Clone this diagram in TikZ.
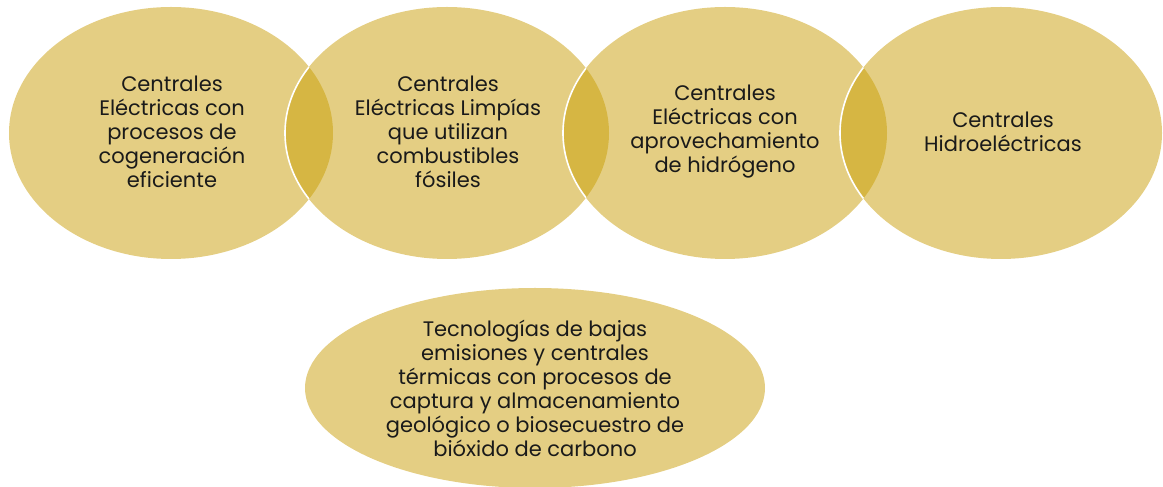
\documentclass[tikz,border=0pt]{standalone}
\usepackage{fontspec}
\setmainfont{Poppins}
\definecolor{gold}{RGB}{200,156,2}
\definecolor{txt}{RGB}{26,26,26}
\begin{document}
\begin{tikzpicture}[x=1pt,y=1pt,
  blob/.style={fill=gold,fill opacity=0.49},
  lbl/.style={align=center,text=txt,font=\fontsize{21}{24}\selectfont,inner sep=0pt}]
\useasboundingbox (0,0) rectangle (1163,487);
% ellipses
\fill[blob] (171,354) ellipse [x radius=162,y radius=126];
\fill[blob] (447,354) ellipse [x radius=162,y radius=126];
\fill[blob] (725,354) ellipse [x radius=162,y radius=126];
\fill[blob] (1001,354) ellipse [x radius=161,y radius=126];
\fill[blob] (535,99) ellipse [x radius=230,y radius=100];
% white arcs inside lenses
\begin{scope}
\clip (171,354) ellipse [x radius=162,y radius=126];
\draw[white,line width=1.6] (447,354) ellipse [x radius=162,y radius=126];
\end{scope}
\begin{scope}
\clip (447,354) ellipse [x radius=162,y radius=126];
\draw[white,line width=1.6] (725,354) ellipse [x radius=162,y radius=126];
\end{scope}
\begin{scope}
\clip (725,354) ellipse [x radius=162,y radius=126];
\draw[white,line width=1.6] (1001,354) ellipse [x radius=161,y radius=126];
\end{scope}
% labels
\node[lbl] (t1) at (172,355) {Centrales\\Eléctricas con\\procesos de\\cogeneración\\eficiente};
\node[lbl] (t2) at (448,355) {Centrales\\Eléctricas Limpías\\que utilizan\\combustibles\\fósiles};
\node[lbl] (t3) at (725,355) {Centrales\\Eléctricas con\\aprovechamiento\\de hidrógeno};
\node[lbl] (t4) at (1003,355) {Centrales\\Hidroeléctricas};
\node[lbl] (t5) at (535,99) {Tecnologías de bajas\\emisiones y centrales\\térmicas con procesos de\\captura y almacenamiento\\geológico o biosecuestro de\\bióxido de carbono};
\end{tikzpicture}
\end{document}
